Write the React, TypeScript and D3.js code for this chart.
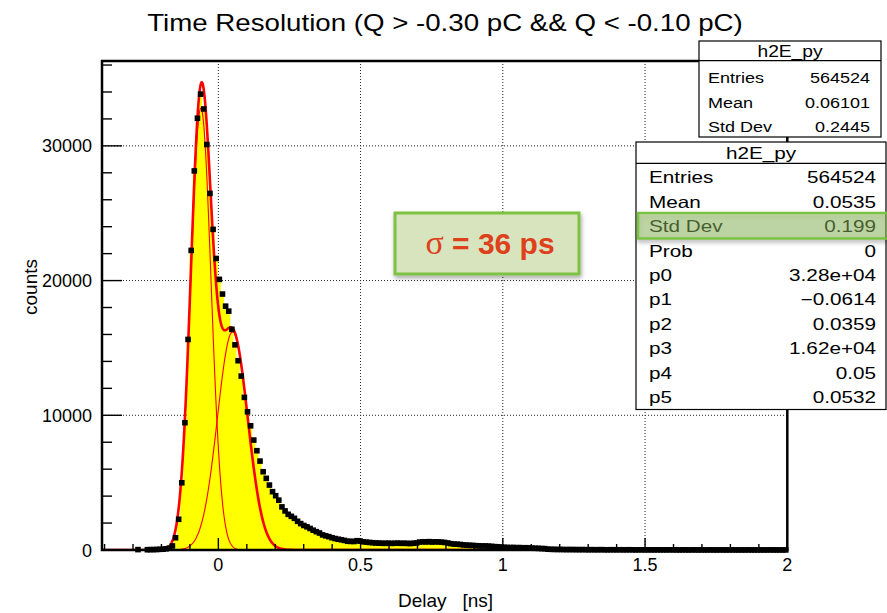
import React from 'react';
import * as d3 from 'd3';

const W = 887;
const H = 613;
const TITLE = 'Time Resolution (Q > -0.30 pC && Q < -0.10 pC)';
const X_LABEL = 'Delay   [ns]';
const Y_LABEL = 'counts';
const X_DOMAIN = [-0.409, 2.0];
const Y_DOMAIN = [0, 36300];
const X_TICKS = [0, 0.5, 1, 1.5, 2];
const X_TICK_LABELS = ['0', '0.5', '1', '1.5', '2'];
const X_GRID = [0, 0.5, 1, 1.5];
const Y_TICKS = [0, 10000, 20000, 30000];
const Y_TICK_LABELS = ['0', '10000', '20000', '30000'];
const Y_GRID = [10000, 20000, 30000];

const BIN_START = -0.409;
const BIN_WIDTH = 0.011;
// bin contents (219 bins, -0.409 .. 2.0)
const COUNTS = [
  0, 0, 0, 0, 0, 0, 0, 0, 0, 0, 0, 30, 0, 0, 20, 30, 30, 40, 50, 60,
  90, 140, 300, 910, 2280, 4990, 9450, 15630, 22240, 28140, 32050, 33840, 32740, 30100, 26470, 23800, 21640, 20090, 19000, 18100,
  17730, 16380, 15230, 14050, 12910, 11330, 10260, 9220, 8160, 7370, 6600, 5810, 5320, 4820, 4330, 4030, 3700, 3200, 2900, 2650,
  2500, 2350, 2130, 1960, 1820, 1720, 1600, 1470, 1360, 1260, 1120, 1050, 990, 910, 850, 800, 760, 710, 650, 640,
  630, 690, 660, 610, 580, 560, 540, 520, 510, 500, 495, 505, 490, 500, 510, 495, 500, 490, 480, 500,
  520, 590, 610, 600, 620, 590, 610, 600, 580, 560, 520, 470, 440, 430, 410, 380, 360, 350, 340, 320,
  310, 300, 300, 290, 270, 250, 240, 220, 200, 190, 180, 190, 170, 180, 160, 170, 150, 140, 130, 120,
  110, 100, 60, 50, 45, 40, 40, 35, 30, 35, 30, 30, 25, 30, 25, 20, 25, 20, 20, 25,
  20, 15, 20, 20, 15, 20, 15, 15, 20, 15, 10, 15, 15, 10, 15, 10, 10, 15, 10, 10,
  10, 15, 10, 10, 5, 10, 10, 5, 10, 10, 5, 10, 5, 5, 10, 5, 5, 10, 5, 5,
  5, 10, 5, 5, 5, 5, 10, 5, 5, 5, 5, 5, 5, 10, 5, 5, 5, 5, 5,
];

// double-gaussian fit parameters (p0..p5 from the stats box)
const FIT_PARAMS = [32800, -0.0614, 0.0359, 16200, 0.05, 0.0532];
const FIT_RANGE = [-0.409, 1.0];

const STATS_NAME = 'h2E_py';
const STATS1_LABELS = ['Entries', 'Mean', 'Std Dev'];
const STATS1_VALUES = ['564524', '0.06101', '0.2445'];
const STATS2_LABELS = ['Entries', 'Mean', 'Std Dev', 'Prob', 'p0', 'p1', 'p2', 'p3', 'p4', 'p5'];
const STATS2_VALUES = ['564524', '0.0535', '0.199', '0', '3.28e+04', '\u22120.0614', '0.0359', '1.62e+04', '0.05', '0.0532'];
const SIGMA_LABEL = '\u03c3';
const SIGMA_VALUE = ' = 36 ps';

const FONT = '"Liberation Sans", Arial, Helvetica, sans-serif';

function SText({ x, y, sx = 1, anchor = 'start', size, children, ...rest }: any) {
  return (
    <text
      transform={`translate(${x},${y}) scale(${sx},1)`}
      textAnchor={anchor}
      fontSize={size}
      fontFamily={FONT}
      {...rest}
    >
      {children}
    </text>
  );
}

const gauss = (x: number, a: number, m: number, s: number) => a * Math.exp(-0.5 * ((x - m) / s) ** 2);

export default function App() {
  const left = 102;
  const right = 787.3;
  const top = 61;
  const bottom = 550;
  const MS = 5.6;

  const xs = d3.scaleLinear().domain(X_DOMAIN).range([left, right]);
  const ys = d3.scaleLinear().domain(Y_DOMAIN).range([bottom, top]);

  const edges = COUNTS.map((c, i) => ({ x: BIN_START + i * BIN_WIDTH, c }));
  edges.push({ x: BIN_START + COUNTS.length * BIN_WIDTH, c: COUNTS[COUNTS.length - 1] });
  const area = d3
    .area<{ x: number; c: number }>()
    .x((d) => xs(d.x))
    .y0(ys(0))
    .y1((d) => ys(d.c))
    .curve(d3.curveStepAfter);

  const [p0, p1, p2, p3, p4, p5] = FIT_PARAMS;
  const fx = d3.range(FIT_RANGE[0], FIT_RANGE[1] + 1e-9, 0.0015);
  const line = d3
    .line<[number, number]>()
    .x((d) => xs(d[0]))
    .y((d) => ys(d[1]));
  const total = line(fx.map((x) => [x, gauss(x, p0, p1, p2) + gauss(x, p3, p4, p5)]));
  const comp1 = line(fx.map((x) => [x, gauss(x, p0, p1, p2)]));
  const comp2 = line(fx.map((x) => [x, gauss(x, p3, p4, p5)]));

  const xMinor = d3.range(-0.4, 2.0001, 0.1).filter((v) => Math.abs(v * 2 - Math.round(v * 2)) > 1e-6);
  const yMinor = d3.range(0, Y_DOMAIN[1], 2000).filter((v) => v % 10000 !== 0);

  // stats boxes geometry
  const b1 = { x: 699, y: 41, w: 182, h: 96 };
  const b2 = { x: 636, y: 142, w: 250, h: 267.5 };

  return (
    <svg width={W} height={H} style={{ display: 'block', position: 'absolute', left: 0, top: 0 }}>
      <defs>
        <clipPath id="frame">
          <rect x={left} y={top} width={right - left} height={bottom - top} />
        </clipPath>
        <filter id="shadow" x="-10%" y="-20%" width="120%" height="160%">
          <feDropShadow dx="1" dy="2.5" stdDeviation="2" floodColor="#000" floodOpacity="0.35" />
        </filter>
      </defs>
      <rect x={0} y={0} width={W} height={H} fill="#fff" />

      {/* grid */}
      <g stroke="#222" strokeWidth={1} strokeDasharray="1,2">
        {X_GRID.map((v) => (
          <line key={'gx' + v} x1={xs(v)} x2={xs(v)} y1={top} y2={bottom} />
        ))}
        {Y_GRID.map((v) => (
          <line key={'gy' + v} x1={left} x2={right} y1={ys(v)} y2={ys(v)} />
        ))}
      </g>

      {/* histogram fill */}
      <path d={area(edges) || ''} fill="#ffff00" stroke="none" clipPath="url(#frame)" />

      {/* fit */}
      <g clipPath="url(#frame)" fill="none">
        <path d={comp1 || ''} stroke="#ff0000" strokeWidth={1.1} />
        <path d={comp2 || ''} stroke="#ff0000" strokeWidth={1.1} />
        <path d={total || ''} stroke="#ff0000" strokeWidth={2.6} />
      </g>

      {/* markers */}
      <g fill="#000">
        {COUNTS.map((c, i) =>
          c > 0 ? (
            <rect
              key={'m' + i}
              x={xs(BIN_START + (i + 0.5) * BIN_WIDTH) - MS / 2}
              y={ys(c) - MS / 2}
              width={MS}
              height={MS}
            />
          ) : null
        )}
      </g>

      {/* frame */}
      <rect x={left} y={top} width={right - left} height={bottom - top} fill="none" stroke="#000" strokeWidth={2.5} />

      {/* ticks */}
      <g stroke="#000" strokeWidth={1.4}>
        {X_TICKS.map((v) => (
          <line key={'xt' + v} x1={xs(v)} x2={xs(v)} y1={bottom} y2={bottom - 12} />
        ))}
        {xMinor.map((v) => (
          <line key={'xm' + v} x1={xs(v)} x2={xs(v)} y1={bottom} y2={bottom - 6} />
        ))}
        {Y_TICKS.map((v) => (
          <line key={'yt' + v} x1={left} x2={left + 20} y1={ys(v)} y2={ys(v)} />
        ))}
        {yMinor.map((v) => (
          <line key={'ym' + v} x1={left} x2={left + 10} y1={ys(v)} y2={ys(v)} />
        ))}
      </g>

      {/* tick labels */}
      <g fill="#000">
        {X_TICKS.map((v, i) => (
          <SText key={'xl' + v} x={xs(v)} y={571} anchor="middle" size={18}>
            {X_TICK_LABELS[i]}
          </SText>
        ))}
        {Y_TICKS.map((v, i) => (
          <SText key={'yl' + v} x={92} y={ys(v) + 6.5} anchor="end" size={18}>
            {Y_TICK_LABELS[i]}
          </SText>
        ))}
      </g>

      {/* axis titles */}
      <text x={398} y={606.5} fontSize={19} fontFamily={FONT} style={{ whiteSpace: 'pre' }}>
        {X_LABEL}
      </text>
      <text transform="translate(37,287) rotate(-90)" textAnchor="middle" fontSize={19} fontFamily={FONT}>
        {Y_LABEL}
      </text>

      {/* title */}
      <SText x={445} y={31} anchor="middle" size={24.5} sx={1.13}>
        {TITLE}
      </SText>

      {/* stats box 1 */}
      <g>
        <rect x={b1.x} y={b1.y} width={b1.w} height={b1.h} fill="#fff" stroke="#000" strokeWidth={1.2} />
        <line x1={b1.x} x2={b1.x + b1.w} y1={60.7} y2={60.7} stroke="#000" strokeWidth={1.2} />
        <SText x={b1.x + b1.w / 2} y={57} anchor="middle" size={16} sx={1.2}>
          {STATS_NAME}
        </SText>
        {STATS1_LABELS.map((l, i) => (
          <g key={'s1' + i}>
            <SText x={708} y={83.3 + i * 24.2} size={15} sx={1.2}>
              {l}
            </SText>
            <SText x={870} y={83.3 + i * 24.2} anchor="end" size={15} sx={1.2}>
              {STATS1_VALUES[i]}
            </SText>
          </g>
        ))}
      </g>

      {/* stats box 2 */}
      <g>
        <rect x={b2.x} y={b2.y} width={b2.w} height={b2.h} fill="#fff" stroke="#000" strokeWidth={1.2} />
        <line x1={b2.x} x2={b2.x + b2.w} y1={163.3} y2={163.3} stroke="#000" strokeWidth={1.2} />
        <SText x={b2.x + b2.w / 2} y={158.5} anchor="middle" size={16.3} sx={1.27}>
          {STATS_NAME}
        </SText>
        {STATS2_LABELS.map((l, i) => (
          <g key={'s2' + i}>
            <SText x={649} y={183.3 + i * 24.4} size={16.3} sx={1.27}>
              {l}
            </SText>
            <SText x={876} y={183.3 + i * 24.4} anchor="end" size={16.3} sx={1.27}>
              {STATS2_VALUES[i]}
            </SText>
          </g>
        ))}
      </g>

      {/* highlight of Std Dev row */}
      <rect
        x={638}
        y={213}
        width={250}
        height={25.5}
        fill="#8fbb5a"
        fillOpacity={0.45}
        stroke="#7cc243"
        strokeWidth={2.5}
        filter="url(#shadow)"
      />

      {/* sigma box */}
      <g filter="url(#shadow)">
        <rect x={395} y={213} width={184} height={61} fill="#d7e4bd" stroke="#7dc243" strokeWidth={3} />
      </g>
      <text x={490} y={253.5} textAnchor="middle" fontSize={30} fontWeight="bold" fontFamily={FONT} fill="#de401c">
        <tspan fontFamily='"Liberation Serif", "DejaVu Serif", serif' fontWeight="normal" fontSize={34}>
          {SIGMA_LABEL}
        </tspan>
        <tspan style={{ whiteSpace: 'pre' }}>{SIGMA_VALUE}</tspan>
      </text>
    </svg>
  );
}
